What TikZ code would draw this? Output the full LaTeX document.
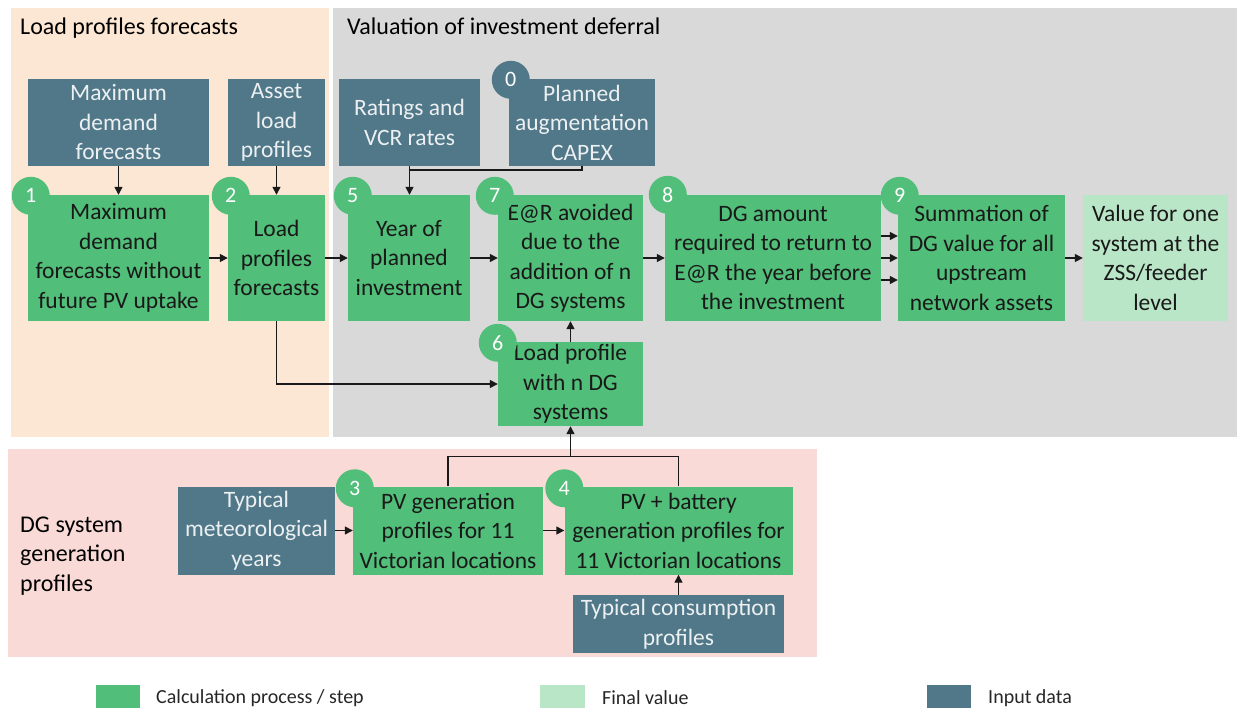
\documentclass[tikz,border=0pt]{standalone}
\usepackage{fontspec}
\setmainfont{Carlito}
\usetikzlibrary{arrows.meta,calc}
\definecolor{calcC}{RGB}{81,190,121}
\definecolor{inpC}{RGB}{80,120,136}
\definecolor{finC}{RGB}{186,230,200}
\definecolor{bgO}{RGB}{252,231,212}
\definecolor{bgG}{RGB}{217,217,217}
\definecolor{bgP}{RGB}{249,218,215}
\definecolor{inpT}{RGB}{236,240,242}
\definecolor{txt}{RGB}{25,25,25}
\tikzset{
 base/.style={inner sep=0pt, align=center, font=\fontsize{23.5}{29.5}\selectfont},
 inp/.style={base, fill=inpC, text=inpT},
 calcbox/.style={base, fill=calcC, text=txt},
 fin/.style={base, fill=finC, text=txt},
 num/.style={circle, fill=calcC, minimum size=38pt, inner sep=0pt, text=white, font=\fontsize{22}{22}\selectfont},
 arr/.style={-{Triangle[length=8pt,width=8pt]}, line width=1.4pt, draw=txt},
 ln/.style={line width=1.4pt, draw=txt},
 title/.style={anchor=west, inner sep=0pt, text=black, font=\fontsize{24}{29.5}\selectfont, align=left},
 legtxt/.style={anchor=west, inner sep=0pt, text=black!85, font=\fontsize{20}{24}\selectfont},
}
\begin{document}
\begin{tikzpicture}[x=1pt,y=-1pt]
\useasboundingbox (0,0) rectangle (1238,711);
% backgrounds
\fill[bgO] (11,8) rectangle (329,437);
\fill[bgG] (333,8) rectangle (1237,437);
\fill[bgP] (8,449) rectangle (817,657);
\node[title, anchor=base west] (t1) at (20,35) {Load profiles forecasts};
\node[title, anchor=base west] (t2) at (347,35) {Valuation of investment deferral};
\node[title] (t3) at (20,556) {DG system\\generation\\profiles};
% input boxes
\node[inp, minimum width=181pt, minimum height=87pt] (maxd) at (118.5,122.5) {Maximum\\demand\\forecasts};
\node[inp, minimum width=97pt, minimum height=87pt] (asset) at (276.5,122.5) {Asset\\load\\profiles};
\node[inp, minimum width=141pt, minimum height=87pt] (rat) at (409.5,122.5) {Ratings and\\VCR rates};
\node[inp, minimum width=146pt, minimum height=87pt] (capex) at (582,122.5) {Planned\\augmentation\\CAPEX};
\node[inp, minimum width=157pt, minimum height=88pt] (met) at (256.5,530.5) {Typical\\meteorological\\years};
\node[inp, minimum width=211pt, minimum height=58pt] (cons) at (678.5,624) {Typical consumption\\profiles};
% calc boxes
\node[calcbox, minimum width=181pt, minimum height=126pt] (b1) at (118.5,258) {Maximum\\demand\\forecasts without\\future PV uptake};
\node[calcbox, minimum width=97pt, minimum height=126pt] (b2) at (276.5,258) {Load\\profiles\\forecasts};
\node[calcbox, minimum width=122pt, minimum height=126pt] (b5) at (409,258) {Year of\\planned\\investment};
\node[calcbox, minimum width=145pt, minimum height=126pt] (b7) at (570.5,258) {E@R avoided\\due to the\\addition of n\\DG systems};
\node[calcbox, minimum width=216pt, minimum height=126pt] (b8) at (773,258) {DG amount\\required to return to\\E@R the year before\\the investment};
\node[calcbox, minimum width=167pt, minimum height=126pt] (b9) at (981.5,258) {Summation of\\DG value for all\\upstream\\network assets};
\node[fin, minimum width=145pt, minimum height=126pt] (fv) at (1155.5,258) {Value for one\\system at the\\ZSS/feeder\\level};
\node[calcbox, minimum width=145pt, minimum height=84pt] (b6) at (570.5,384) {Load profile\\with n DG\\systems};
\node[calcbox, minimum width=190pt, minimum height=88pt] (b3) at (448,530.5) {PV generation\\profiles for 11\\Victorian locations};
\node[calcbox, minimum width=228pt, minimum height=88pt] (b4) at (678.5,530.5) {PV + battery\\generation profiles for\\11 Victorian locations};
% number circles
\node[num] (n1) at ([shift={(3,1)}]b1.north west) {1};
\node[num] (n2) at ([shift={(3,1)}]b2.north west) {2};
\node[num] (n5) at ([shift={(5,1)}]b5.north west) {5};
\node[num] (n7) at ([shift={(-3,1)}]b7.north west) {7};
\node[num] (n8) at ([shift={(3,0)}]b8.north west) {8};
\node[num] (n9) at ([shift={(2,1)}]b9.north west) {9};
\node[num] (n6) at ([shift={(0,1)}]b6.north west) {6};
\node[num] (n3) at ([shift={(2,2)}]b3.north west) {3};
\node[num] (n4) at ([shift={(0,2)}]b4.north west) {4};
\node[num, fill=inpC] (n0) at ([shift={(2,1)}]capex.north west) {0};
% connectors
\draw[arr] (maxd) -- (b1);
\draw[arr] (asset) -- (b2);
\draw[ln] (capex.south) -- ++(0,4) -| (rat.south);
\draw[arr] (rat.south) -- (rat.south |- b5.north);
\draw[arr] (b1) -- (b2);
\draw[arr] (b2) -- (b5);
\draw[arr] (b5) -- (b7);
\draw[arr] (b7) -- (b8);
\draw[arr] ([yshift=22pt]b8.east) -- ([yshift=22pt]b9.west);
\draw[arr] (b8) -- (b9);
\draw[arr] ([yshift=-22pt]b8.east) -- ([yshift=-22pt]b9.west);
\draw[arr] (b9) -- (fv);
\draw[arr] (b2.south) |- (b6.west);
\draw[arr] (b6) -- (b7);
\coordinate (jn) at ($(b3.north)+(0,-30)$);
\draw[ln] (b3.north) -- (jn) -| (b4.north);
\draw[arr] (b6.south |- jn) -- (b6.south);
\draw[arr] (met) -- (b3);
\draw[arr] (b3) -- (b4);
\draw[arr] (cons.north) -- (cons.north |- b4.south);
% legend
\fill[calcC] (96,685) rectangle (140,708);
\node[legtxt] (l1) at (156,698) {Calculation process / step};
\fill[finC] (540,685) rectangle (585,708);
\node[legtxt] (l2) at (602,698) {Final value};
\fill[inpC] (927,685) rectangle (971,708);
\node[legtxt] (l3) at (988,698) {Input data};
\end{tikzpicture}
\end{document}
